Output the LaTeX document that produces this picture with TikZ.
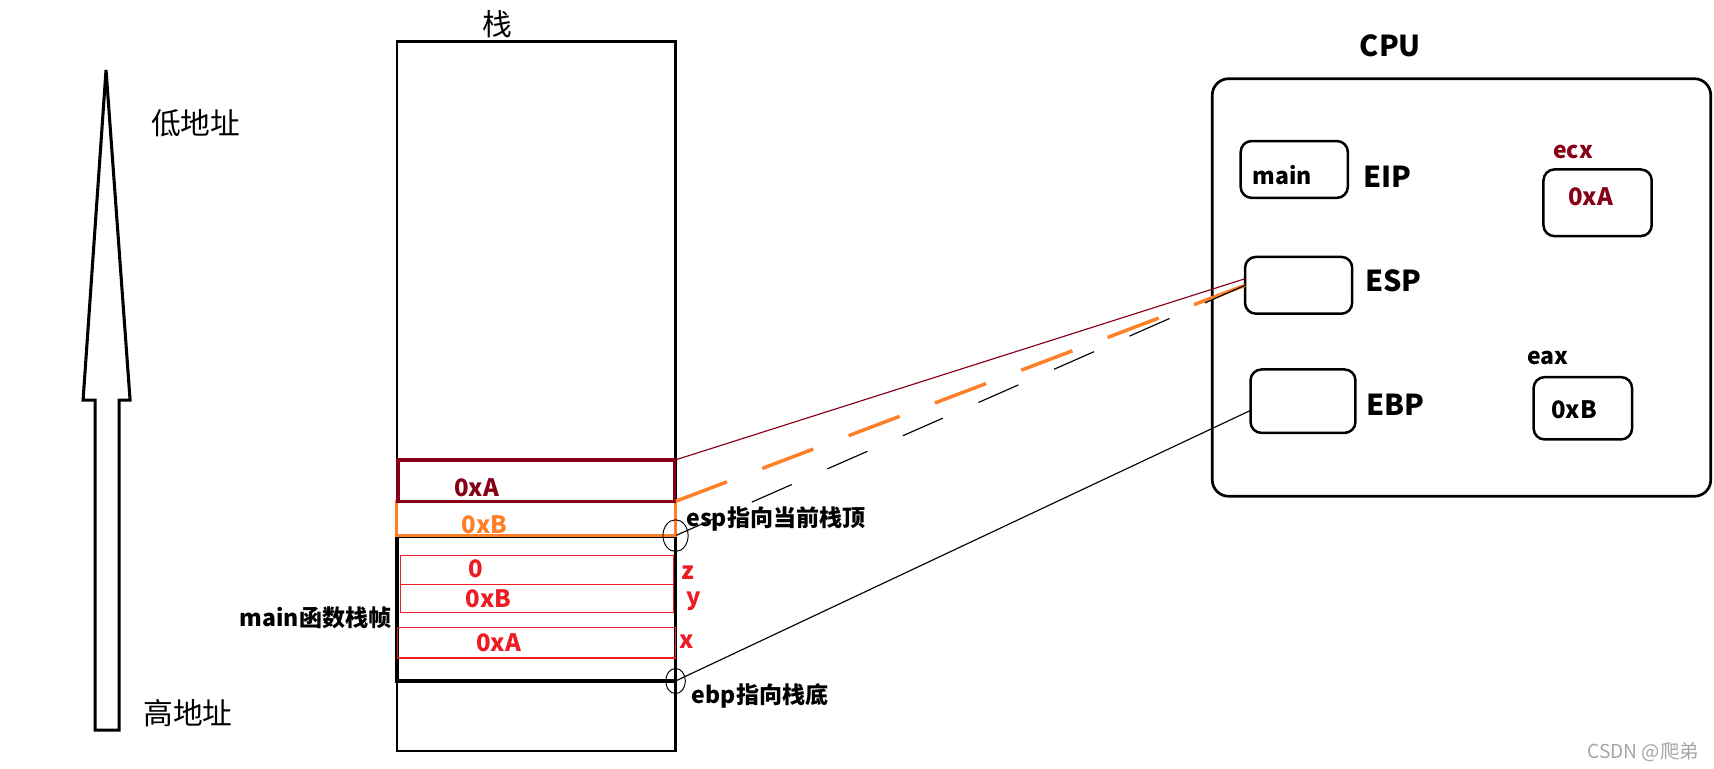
\documentclass[tikz,border=0pt]{standalone}
\usepackage{fontspec}
\setmainfont{Noto Sans CJK SC}
\usepackage{tikz}
\usetikzlibrary{positioning,fit,calc,shapes.geometric}

\definecolor{stackred}{RGB}{136,0,21}
\definecolor{stackorange}{RGB}{255,127,39}
\definecolor{varred}{RGB}{237,28,36}
\definecolor{markgray}{RGB}{165,165,165}

\begin{document}
\begin{tikzpicture}[
    x=0.02cm, y=-0.02cm,
    every node/.style={inner sep=0pt, outer sep=0pt},
    slot/.style={rectangle, draw, inner sep=0pt},
    varrow/.style={slot, draw=varred, line width=0.6pt},
    reg/.style={rectangle, draw, line width=1.3pt, rounded corners=0.2cm, inner sep=0pt},
    regname/.style={font=\fontsize{15}{18}\selectfont\bfseries},
    value/.style={font=\fontsize{12.5}{15}\selectfont\bfseries},
    note/.style={font=\fontsize{12}{14}\selectfont\bfseries},
    addr/.style={font=\fontsize{15.5}{18}\selectfont},
    pointer/.style={ellipse, draw, line width=0.5pt},
    link/.style={line width=0.6pt}
]
    \useasboundingbox (0,0) rectangle (1568,703);

    \draw[line width=1.6pt] (87,668) -- (87,366) -- (76,366) -- (97,64) -- (119,366) -- (109,366) -- (109,668) -- cycle;
    \node[addr] (lowaddr) at (179,113) {低地址};
    \node[addr] (highaddr) at (172,652) {高地址};

    \node[slot, line width=1.3pt, fit={(363,38) (618,687)}] (stack) {};
    \node[addr] (stacktitle) at (455,22) {栈};
    \node[slot, line width=2pt, fit={(363,490) (618,623)}] (frame) {};
    \node[slot, draw=stackorange, line width=1.4pt, fit={(363,459) (618,490)}] (slotB) {};
    \node[slot, draw=stackred, line width=1.8pt, fit={(364,421) (617,459)}] (slotA) {};
    \node[varrow, fit={(366,508) (616,535)}] (rowz) {};
    \node[varrow, fit={(366,535) (616,560)}] (rowy) {};
    \node[varrow, fit={(364,574) (618,602)}] (rowx) {};

    \node[value, text=stackred] (valA) at (436,446) {0xA};
    \node[value, text=stackorange] (valB) at (443,480) {0xB};
    \node[value, text=varred] (valz) at (435,520) {0};
    \node[value, text=varred] (valy) at (447,548) {0xB};
    \node[value, text=varred] (valx) at (456,588) {0xA};
    \node[value, text=varred] (zname) at (629,524) {z};
    \node[value, text=varred] (yname) at (635,550) {y};
    \node[value, text=varred] (xname) at (628,587) {x};

    \node[pointer, minimum width=0.46cm, minimum height=0.58cm] (espmark) at (frame.north east) {};
    \node[pointer, minimum width=0.36cm, minimum height=0.46cm] (ebpmark) at (frame.south east) {};
    \node[note, anchor=west] (esptext) at (628,475) {esp指向当前栈顶};
    \node[note, anchor=west] (ebptext) at (633,637) {ebp指向栈底};
    \node[note, anchor=east] (frametext) at (358,565) {main函数栈帧};

    \node[reg, line width=1.4pt, rounded corners=0.3cm, fit={(1109,72) (1565,454)}] (cpu) {};
    \node[regname] (cputitle) at (1272,42) {CPU};
    \node[reg, fit={(1135,129) (1233,181)}] (mainreg) {};
    \node[note] (maintext) at (1173,160) {main};
    \node[regname, anchor=west] (eip) at (1247,162) {EIP};
    \node[reg, fit={(1139,235) (1237,287)}] (espreg) {};
    \node[regname, anchor=west] (esp) at (1249,257) {ESP};
    \node[reg, fit={(1144,338) (1240,396)}] (ebpreg) {};
    \node[regname, anchor=west] (ebp) at (1250,370) {EBP};
    \node[reg, fit={(1412,155) (1511,216)}] (ecxreg) {};
    \node[note, text=stackred] (ecx) at (1439,139) {ecx};
    \node[value, text=stackred] (ecxval) at (1455,180) {0xA};
    \node[reg, fit={(1403,345) (1493,402)}] (eaxreg) {};
    \node[note] (eax) at (1416,327) {eax};
    \node[value] (eaxval) at (1440,375) {0xB};

    \draw[link, draw=stackred] (slotA.north east) -- (espreg.173);
    \draw[link, draw=stackorange, line width=1.8pt, dash pattern=on 1cm off 0.69cm] (espreg.west) -- (slotA.south east);
    \draw[link, dash pattern=on 0.8cm off 0.71cm] (espreg.west) -- (espmark.center);
    \draw[link] (ebpmark.center) -- (ebpreg.190);

    \node[font=\fontsize{10}{12}\selectfont, text=markgray] (watermark) at (1503,688) {CSDN @爬弟};
\end{tikzpicture}
\end{document}
